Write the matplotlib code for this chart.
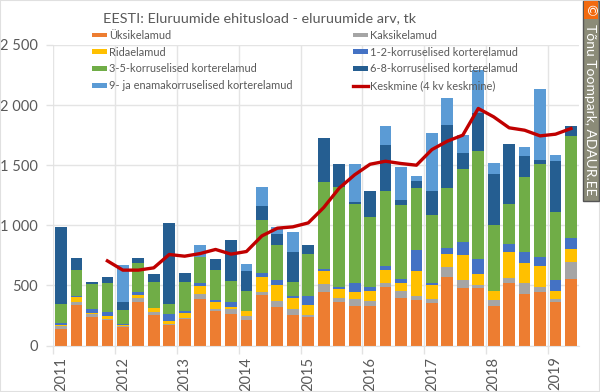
import matplotlib
matplotlib.use('Agg')
import matplotlib.pyplot as plt
from matplotlib.patches import Rectangle
import numpy as np

plt.rcParams['font.family'] = ['Lato', 'DejaVu Sans']

years = ['2011', '2012', '2013', '2014', '2015', '2016', '2017', '2018', '2019']

# kvartalid 2011 Q1 .. 2019 Q2, loetud pildilt
yksik = [141, 341, 236, 208, 155, 360, 252, 169, 219, 385, 283, 258,
         216, 421, 322, 255, 236, 446, 366, 330, 330, 485, 399, 377,
         355, 568, 477, 482, 327, 524, 430, 444, 366, 552]
kaksik = [25, 22, 27, 14, 9, 37, 25, 11, 11, 42, 17, 42,
          31, 28, 47, 50, 16, 64, 31, 53, 39, 31, 56, 31,
          36, 86, 72, 20, 50, 36, 86, 41, 25, 141]
rida = [3, 39, 6, 25, 3, 19, 36, 22, 39, 69, 60, 24,
        39, 125, 136, 89, 86, 106, 72, 58, 83, 116, 64, 210,
        111, 106, 202, 91, 78, 216, 169, 178, 64, 108]
k1_2 = [22, 6, 33, 33, 8, 30, 3, 61, 19, 22, 17, 42,
        5, 30, 41, 16, 70, 22, 19, 80, 33, 33, 36, 175,
        14, 50, 109, 125, 0, 67, 97, 72, 88, 97]
k3_5 = [153, 216, 211, 236, 122, 239, 216, 81, 244, 217, 252, 172,
        161, 444, 291, 117, 355, 726, 829, 657, 580, 622, 610, 521,
        568, 504, 607, 901, 546, 335, 621, 779, 569, 843]
k6_8 = [640, 100, 14, 58, 63, 44, 61, 671, 72, 0, 89, 341,
        169, 114, 89, 247, 77, 361, 191, 12, 222, 377, 47, 53,
        200, 524, 138, 319, 427, 499, 172, 31, 419, 86]
k9 = [0, 0, 0, 0, 308, 0, 0, 0, 0, 97, 0, 0,
      61, 155, 59, 169, 0, 0, 0, 321, 0, 158, 274, 44,
      480, 225, 145, 352, 92, 0, 80, 585, 52, 0]
keskmine = [704, 627, 627, 646, 757, 743, 765, 799, 760,
            782, 912, 976, 987, 1020, 1148, 1309, 1420, 1508, 1533, 1514, 1500,
            1630, 1700, 1750, 1972, 1902, 1811, 1791, 1744, 1758, 1805]

names = ['Üksikelamud', 'Kaksikelamud', 'Ridaelamud', '1-2-korruselised korterelamud',
         '3-5-korruselised korterelamud', '6-8-korruselised korterelamud',
         '9- ja enamakorruselised korterelamud']
colors = ['#ed7d31', '#a5a5a5', '#ffc000', '#4472c4', '#70ad47', '#255e91', '#5b9bd5']
series = [yksik, kaksik, rida, k1_2, k3_5, k6_8, k9]

W, H = 600, 392
fig = plt.figure(figsize=(6, 3.92), dpi=100)
ax = fig.add_axes([53.3 / W, 1 - 345.5 / H, 525.4 / W, 300.5 / H])

x = np.arange(len(yksik))
bottom = np.zeros(len(x))
handles = []
for vals, col, name in zip(series, colors, names):
    b = ax.bar(x, vals, bottom=bottom, width=0.76, color=col, label=name, zorder=3)
    handles.append(b)
    bottom += np.array(vals)
line, = ax.plot(x[3:], keskmine, color='#c00000', lw=2.4, zorder=4,
                label='Keskmine (4 kv keskmine)', solid_joinstyle='round')

ax.set_xlim(-0.5, 33.5)
ax.set_ylim(0, 2500)
ax.set_yticks([0, 500, 1000, 1500, 2000, 2500])
ax.set_yticklabels(['0', '500', '1 000', '1 500', '2 000', '2 500'])
ax.set_xticks(np.arange(-0.5, 33.5, 4))
ax.set_xticklabels([])
ax.set_xticks(np.arange(0, 33, 4), minor=True)
ax.set_xticklabels(years, minor=True, rotation=90, fontsize=10.5, color='#595959')
ax.tick_params(axis='x', which='minor', length=0, pad=8)
ax.tick_params(axis='x', which='major', length=6, width=1, color='#e2e2e2')
ax.tick_params(axis='y', length=5, width=1, color='#e2e2e2', labelsize=10.5, labelcolor='#595959', pad=6)
ax.grid(True, color='#e4e4e4', lw=1, zorder=0)
ax.set_axisbelow(True)
for s in ['top', 'right', 'left']:
    ax.spines[s].set_visible(False)
ax.spines['bottom'].set_color('#e2e2e2')
ax.spines['bottom'].set_zorder(5)

fig.text(260 / W, 1 - 18 / H, 'EESTI: Eluruumide ehitusload - eluruumide arv, tk',
         ha='center', va='center', fontsize=10.4, color='#595959')

# legend kahes tulbas
h = [handles[0], handles[2], handles[4], handles[6], handles[1], handles[3], handles[5], line]
lab = [names[0], names[2], names[4], names[6], names[1], names[3], names[5], 'Keskmine (4 kv keskmine)']
leg = fig.legend(h, lab, ncols=2, loc='upper left', bbox_to_anchor=(92 / W, 1 - 30 / H),
                 frameon=False, fontsize=7.9, labelcolor='#595959', handlelength=1.37, handleheight=0.3,
                 handletextpad=0.2, columnspacing=5.45, labelspacing=0.52, borderpad=0, borderaxespad=0)
leg.set_zorder(6)

# vesimärk paremal
fig.add_artist(Rectangle((582.5 / W, 1 - 200.5 / H), 16 / W, 200 / H, transform=fig.transFigure,
                         facecolor='#8b8b78', edgecolor='#555555', lw=1, zorder=7))
fig.add_artist(Rectangle((583.5 / W, 1 - 19 / H), 14 / W, 18 / H, transform=fig.transFigure,
                         facecolor='#f26a0f', edgecolor='none', zorder=8))
fig.text(590.5 / W, 1 - 10 / H, '©', rotation=270, ha='center', va='center', fontsize=10, color='white', zorder=9)
fig.text(590.5 / W, 1 - 109.5 / H, 'Tõnu Toompark, ADAUR.EE', rotation=270, ha='center', va='center',
         fontsize=10, color='white', zorder=9)

# pildi raam
fig.add_artist(Rectangle((0, 0), 1, 1, transform=fig.transFigure, facecolor='none', edgecolor='#e0e0e0', lw=1.5))

fig.savefig('out.png', dpi=100)
